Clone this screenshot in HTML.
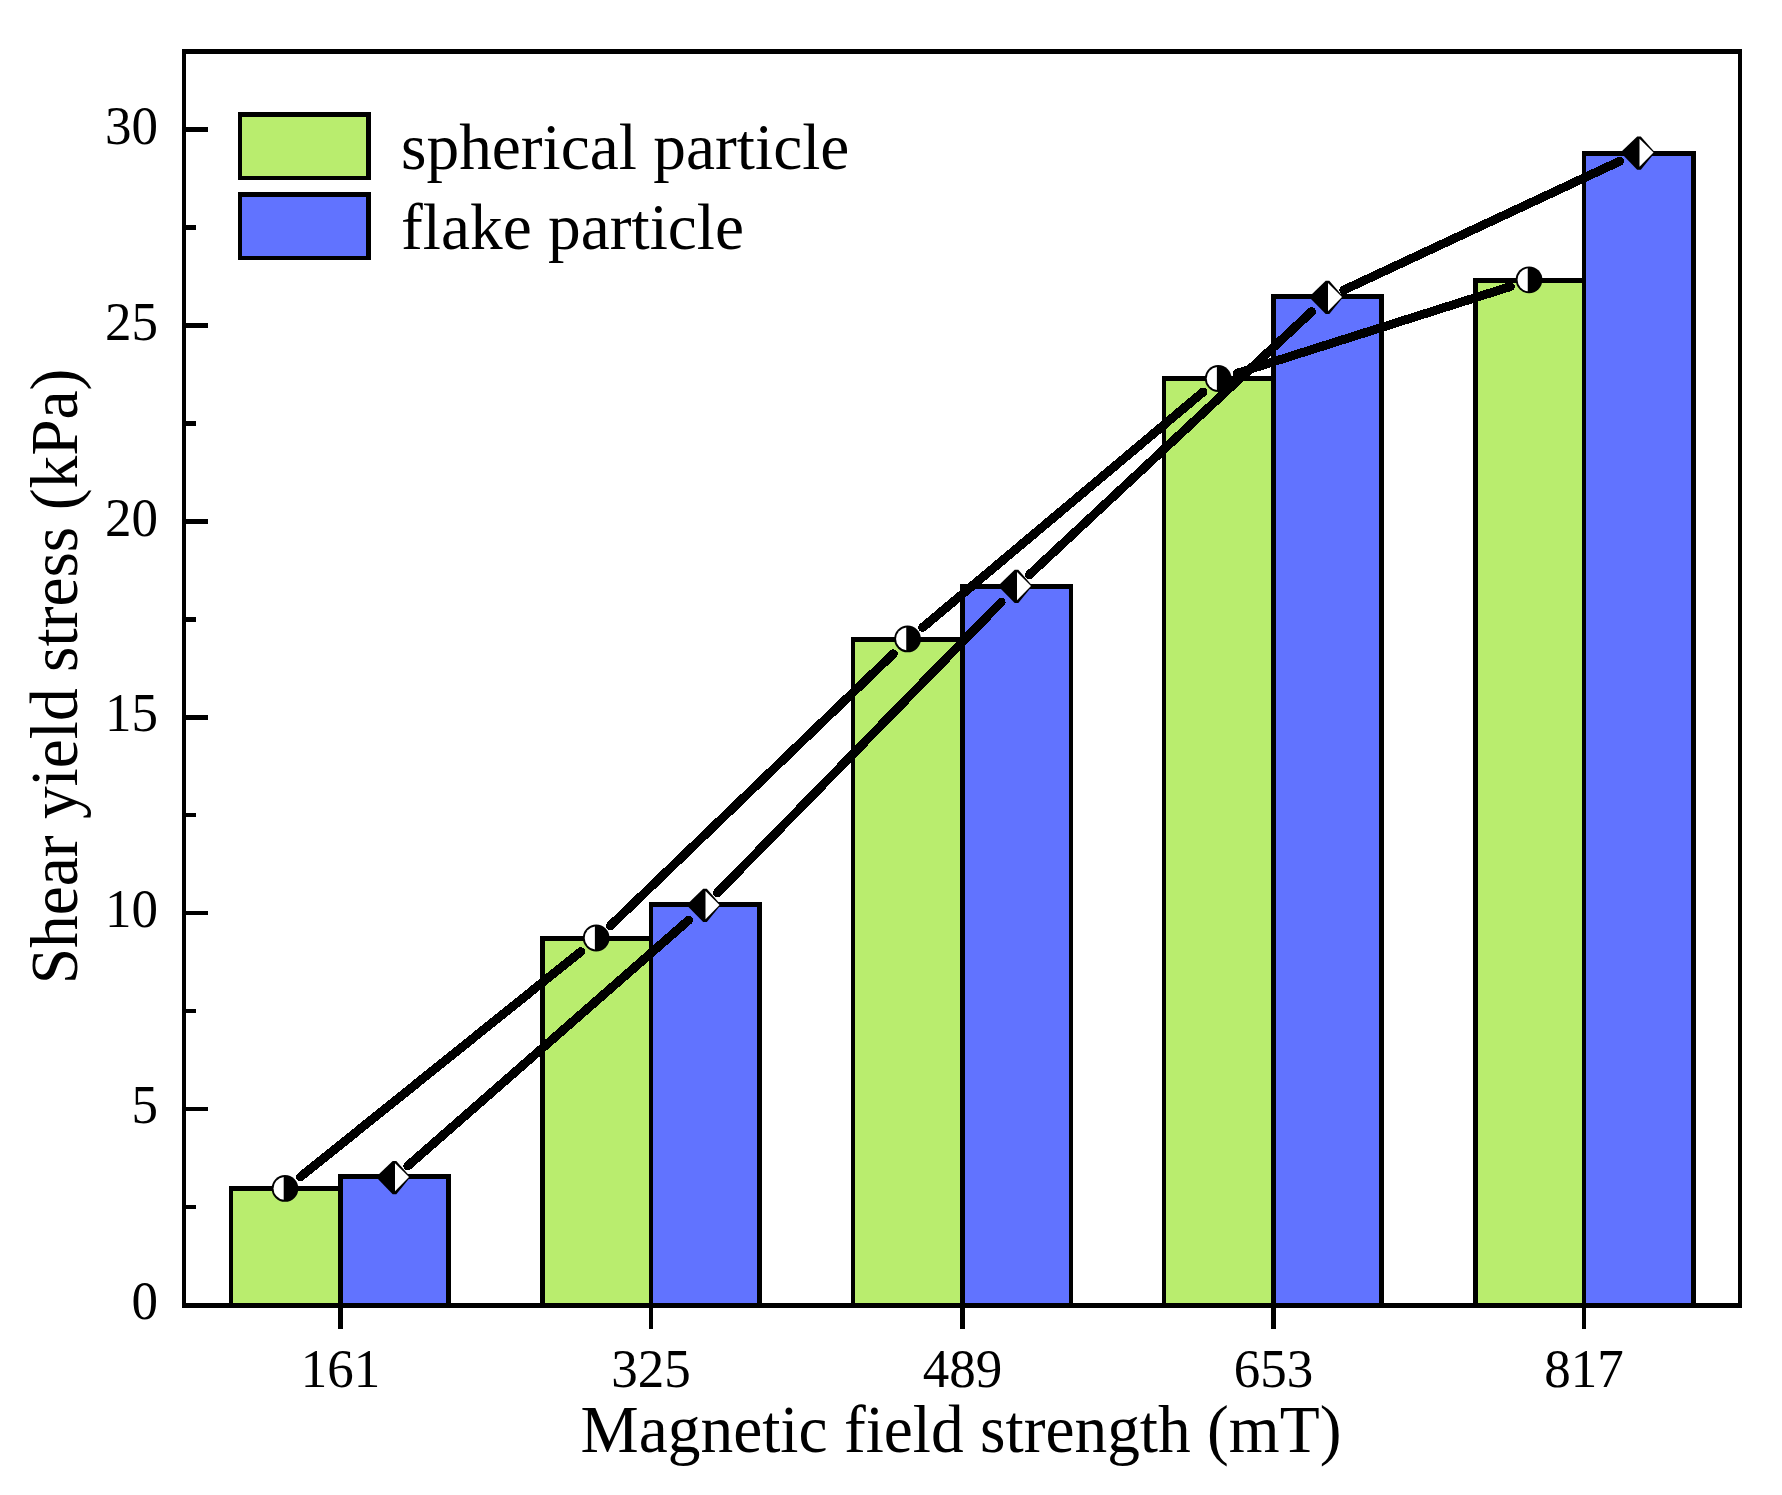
<!DOCTYPE html>
<html lang="en"><head><meta charset="utf-8"><title>Shear yield stress vs magnetic field strength</title>
<style>
html,body{margin:0;padding:0;background:#fff;}
body{width:1782px;height:1495px;overflow:hidden;}
svg{display:block;}
text{font-family:"Liberation Serif",serif;fill:#000;}
.t{font-size:65.4px;}
.k{font-size:53px;}
</style></head><body>
<svg width="1782" height="1495" viewBox="0 0 1782 1495">
<rect x="0" y="0" width="1782" height="1495" fill="#fff"/>
<g shape-rendering="crispEdges">
<rect x="229" y="1186" width="114" height="119" fill="#000"/>
<rect x="233" y="1191" width="105" height="112" fill="#b9ed6e"/>
<rect x="540" y="936" width="113" height="369" fill="#000"/>
<rect x="545" y="941" width="104" height="362" fill="#b9ed6e"/>
<rect x="851" y="637" width="114" height="668" fill="#000"/>
<rect x="855" y="642" width="105" height="661" fill="#b9ed6e"/>
<rect x="1162" y="376" width="114" height="929" fill="#000"/>
<rect x="1166" y="381" width="105" height="922" fill="#b9ed6e"/>
<rect x="1473" y="278" width="113" height="1027" fill="#000"/>
<rect x="1478" y="283" width="104" height="1020" fill="#b9ed6e"/>
<rect x="338" y="1174" width="113" height="131" fill="#000"/>
<rect x="343" y="1179" width="103" height="124" fill="#6173ff"/>
<rect x="649" y="902" width="113" height="403" fill="#000"/>
<rect x="653" y="907" width="104" height="396" fill="#6173ff"/>
<rect x="960" y="584" width="113" height="721" fill="#000"/>
<rect x="965" y="589" width="104" height="714" fill="#6173ff"/>
<rect x="1271" y="294" width="113" height="1011" fill="#000"/>
<rect x="1276" y="299" width="103" height="1004" fill="#6173ff"/>
<rect x="1582" y="151" width="114" height="1154" fill="#000"/>
<rect x="1586" y="156" width="105" height="1147" fill="#6173ff"/>
</g>
<g shape-rendering="crispEdges" fill="#000">
<rect x="182" y="49" width="1560" height="5"/>
<rect x="182" y="1303" width="1560" height="5"/>
<rect x="182" y="49" width="4" height="1259"/>
<rect x="1738" y="49" width="4" height="1259"/>
<rect x="186" y="1205" width="10" height="4"/>
<rect x="186" y="1107" width="22" height="4"/>
<rect x="186" y="1009" width="10" height="4"/>
<rect x="186" y="911" width="22" height="4"/>
<rect x="186" y="813" width="10" height="4"/>
<rect x="186" y="715" width="22" height="5"/>
<rect x="186" y="617" width="10" height="5"/>
<rect x="186" y="519" width="22" height="5"/>
<rect x="186" y="421" width="10" height="5"/>
<rect x="186" y="323" width="22" height="5"/>
<rect x="186" y="225" width="10" height="5"/>
<rect x="186" y="127" width="22" height="5"/>
<rect x="338" y="1308" width="5" height="21"/>
<rect x="649" y="1308" width="4" height="21"/>
<rect x="960" y="1308" width="5" height="21"/>
<rect x="1271" y="1308" width="5" height="21"/>
<rect x="1582" y="1308" width="4" height="21"/>
</g>
<g stroke="#000" stroke-width="8.9" stroke-linecap="round" fill="none" shape-rendering="crispEdges">
<line x1="300.4" y1="1176.9" x2="580.8" y2="951.6"/>
<line x1="610.4" y1="925.7" x2="893.3" y2="653.8"/>
<line x1="922.6" y1="627.5" x2="1203.1" y2="392.0"/>
<line x1="1237.0" y1="373.3" x2="1510.3" y2="286.6"/>
<line x1="407.8" y1="1165.9" x2="688.7" y2="920.1"/>
<line x1="717.3" y1="893.0" x2="1001.2" y2="602.2"/>
<line x1="1029.4" y1="574.7" x2="1311.6" y2="311.7"/>
<line x1="1343.9" y1="290.0" x2="1619.6" y2="161.3"/>
</g>
<ellipse cx="285.00" cy="1188.40" rx="13.35" ry="13.40" fill="#000"/>
<path d="M283.70 1176.97 A11.45 11.50 0 0 0 283.70 1199.83 Z" fill="#fff"/>
<ellipse cx="596.20" cy="938.00" rx="13.35" ry="13.40" fill="#000"/>
<path d="M594.90 926.57 A11.45 11.50 0 0 0 594.90 949.43 Z" fill="#fff"/>
<ellipse cx="907.55" cy="638.90" rx="13.35" ry="13.40" fill="#000"/>
<path d="M906.25 627.47 A11.45 11.50 0 0 0 906.25 650.33 Z" fill="#fff"/>
<ellipse cx="1218.20" cy="378.50" rx="13.35" ry="13.40" fill="#000"/>
<path d="M1216.90 367.07 A11.45 11.50 0 0 0 1216.90 389.93 Z" fill="#fff"/>
<ellipse cx="1529.05" cy="279.80" rx="13.35" ry="13.40" fill="#000"/>
<path d="M1527.75 268.37 A11.45 11.50 0 0 0 1527.75 291.23 Z" fill="#fff"/>
<path d="M392.7 1160.9 L396.3 1160.9 L410.0 1176.6 L410.0 1177.4 L396.3 1194.2 L392.7 1194.2 L376.5 1177.6 L376.5 1176.6 Z" fill="#000"/>
<path d="M395.0 1163.2 L409.0 1177.0 L395.0 1191.3 Z" fill="#fff"/>
<path d="M703.2 888.8 L706.8 888.8 L720.5 904.5 L720.5 905.3 L706.8 922.1 L703.2 922.1 L687.0 905.5 L687.0 904.5 Z" fill="#000"/>
<path d="M705.5 891.1 L719.5 904.9 L705.5 919.2 Z" fill="#fff"/>
<path d="M1014.7 569.8 L1018.3 569.8 L1032.0 585.5 L1032.0 586.3 L1018.3 603.1 L1014.7 603.1 L998.5 586.5 L998.5 585.5 Z" fill="#000"/>
<path d="M1017.0 572.1 L1031.0 585.9 L1017.0 600.2 Z" fill="#fff"/>
<path d="M1325.7 280.8 L1329.3 280.8 L1343.0 296.5 L1343.0 297.3 L1329.3 314.1 L1325.7 314.1 L1309.5 297.5 L1309.5 296.5 Z" fill="#000"/>
<path d="M1328.0 283.1 L1342.0 296.9 L1328.0 311.2 Z" fill="#fff"/>
<path d="M1637.2 136.4 L1640.8 136.4 L1654.5 152.1 L1654.5 152.9 L1640.8 169.7 L1637.2 169.7 L1621.0 153.1 L1621.0 152.1 Z" fill="#000"/>
<path d="M1639.5 138.7 L1653.5 152.5 L1639.5 166.8 Z" fill="#fff"/>
<g shape-rendering="crispEdges">
<rect x="238" y="112" width="133" height="68" fill="#000"/>
<rect x="242" y="117" width="124" height="59" fill="#b9ed6e"/>
<rect x="238" y="192" width="133" height="68" fill="#000"/>
<rect x="242" y="197" width="124" height="59" fill="#6173ff"/>
</g>
<text class="t" transform="translate(401 169.1) scale(1 1.015)">spherical particle</text>
<text class="t" transform="translate(401 248.8) scale(1 1.015)">flake particle</text>
<text class="k" transform="translate(157.9 1319.1) scale(1 1.022)" text-anchor="end">0</text>
<text class="k" transform="translate(157.9 1123.2) scale(1 1.022)" text-anchor="end">5</text>
<text class="k" transform="translate(157.9 927.3) scale(1 1.022)" text-anchor="end">10</text>
<text class="k" transform="translate(157.9 731.4) scale(1 1.022)" text-anchor="end">15</text>
<text class="k" transform="translate(157.9 535.5) scale(1 1.022)" text-anchor="end">20</text>
<text class="k" transform="translate(157.9 339.6) scale(1 1.022)" text-anchor="end">25</text>
<text class="k" transform="translate(157.9 143.7) scale(1 1.022)" text-anchor="end">30</text>
<text class="k" transform="translate(340.4 1387.3) scale(1 1.022)" text-anchor="middle">161</text>
<text class="k" transform="translate(650.9 1387.3) scale(1 1.022)" text-anchor="middle">325</text>
<text class="k" transform="translate(962.4 1387.3) scale(1 1.022)" text-anchor="middle">489</text>
<text class="k" transform="translate(1273.4 1387.3) scale(1 1.022)" text-anchor="middle">653</text>
<text class="k" transform="translate(1583.9 1387.3) scale(1 1.022)" text-anchor="middle">817</text>
<text class="t" transform="translate(961 1452.0) scale(1 1.030)" text-anchor="middle">Magnetic field strength (mT)</text>
<text class="t" transform="translate(76.8 676.5) rotate(-90) scale(1 1.020)" text-anchor="middle">Shear yield stress (kPa)</text>
</svg>
</body></html>
